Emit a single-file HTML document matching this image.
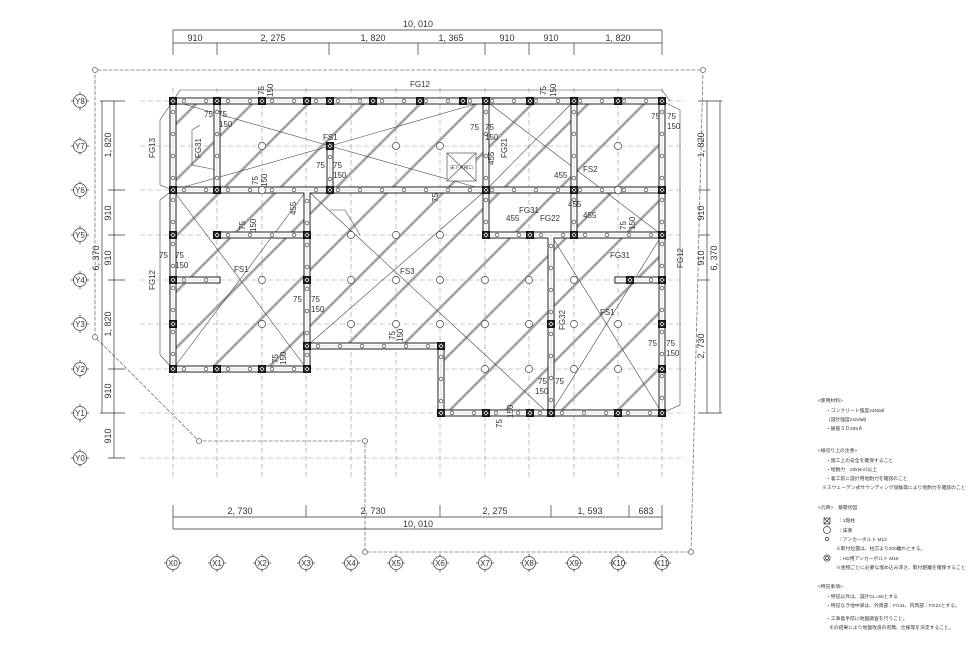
<!DOCTYPE html>
<html><head><meta charset="utf-8">
<style>
html,body{margin:0;padding:0;background:#fff;}
svg{display:block;font-family:"Liberation Sans","Noto Sans CJK JP",sans-serif;}
.t{font-size:9px;fill:#333;}
.s{font-size:8px;fill:#333;}
.n{font-size:4.6px;fill:#444;}
</style></head><body>
<svg id="s" width="980" height="655" viewBox="0 0 980 655" xmlns="http://www.w3.org/2000/svg">
<defs>
<clipPath id="bld"><polygon points="173,101 662,101 662,413 441,413 441,346 307,346 307,369 173,369"/></clipPath>
</defs>
<g id="grid" stroke="#999" stroke-width="0.6" stroke-dasharray="5,3" fill="none"></g>
<g stroke="#777" stroke-width="0.8" fill="none" stroke-dasharray="4,1.5">
<polyline points="95,337 95,70 703,70 691,552 365,552 365,441 199,441 95,337"/>
</g>
<g fill="#fff" stroke="#666" stroke-width="0.8"><circle cx="95" cy="70" r="2.5"/><circle cx="703" cy="70" r="2.5"/><circle cx="95" cy="337" r="2.5"/><circle cx="199" cy="441" r="2.5"/><circle cx="365" cy="441" r="2.5"/><circle cx="365" cy="552" r="2.5"/><circle cx="691" cy="552" r="2.5"/></g>
<g id="hatch" clip-path="url(#bld)" stroke="#a3a3a3" stroke-width="2.6"></g>
<g stroke="#444" stroke-width="0.6" fill="none">
<line x1="173" y1="101" x2="330" y2="146"/><line x1="173" y1="190" x2="330" y2="146"/><line x1="330" y1="146" x2="486" y2="101"/><line x1="330" y1="146" x2="486" y2="190"/>
<line x1="173" y1="190" x2="307" y2="369"/><line x1="307" y1="190" x2="173" y2="369"/>
<line x1="307" y1="190" x2="548" y2="413"/><line x1="307" y1="346" x2="486" y2="190"/>
<line x1="486" y1="101" x2="662" y2="235"/><line x1="574" y1="101" x2="486" y2="190"/>
<line x1="551" y1="235" x2="662" y2="413"/><line x1="551" y1="413" x2="662" y2="235"/>
<polyline points="173,101 160,120 160,185 173,190"/><polyline points="173,190 160,200 160,355 173,369"/>
<polyline points="173,101 180,90 662,90 670,101"/><polyline points="662,101 680,110 680,405 662,413"/>
<polyline points="200,125 192,130 192,165 217,170"/>
<polyline points="330,210 345,210 360,235"/>
</g>
<g id="beams"></g>
<g id="cols"></g>
<g stroke="#555" stroke-width="0.7" fill="#fff"><rect x="447" y="153" width="29" height="28"/><line x1="447" y1="153" x2="476" y2="181"/><line x1="476" y1="153" x2="447" y2="181"/></g>
<text class="n" x="450" y="169">床下点検口</text>
<g stroke="#333" stroke-width="0.7" fill="none">
<line x1="173" y1="30" x2="662" y2="30"/><line x1="173" y1="43" x2="662" y2="43"/>
<line x1="173" y1="30" x2="173" y2="55"/><line x1="662" y1="30" x2="662" y2="55"/>
<line x1="217" y1="43" x2="217" y2="55"/><line x1="329" y1="43" x2="329" y2="55"/><line x1="418" y1="43" x2="418" y2="55"/><line x1="485" y1="43" x2="485" y2="55"/><line x1="529" y1="43" x2="529" y2="55"/><line x1="574" y1="43" x2="574" y2="55"/>
<line x1="173" y1="517" x2="662" y2="517"/><line x1="173" y1="529" x2="662" y2="529"/>
<line x1="173" y1="505" x2="173" y2="529"/><line x1="306" y1="505" x2="306" y2="517"/><line x1="440" y1="505" x2="440" y2="517"/><line x1="551" y1="505" x2="551" y2="517"/><line x1="629" y1="505" x2="629" y2="517"/><line x1="662" y1="505" x2="662" y2="529"/>
<line x1="102" y1="101" x2="102" y2="413"/><line x1="114" y1="101" x2="114" y2="458"/>
<line x1="100" y1="101" x2="125" y2="101"/><line x1="108" y1="190" x2="125" y2="190"/><line x1="108" y1="235" x2="125" y2="235"/><line x1="108" y1="280" x2="125" y2="280"/><line x1="108" y1="369" x2="125" y2="369"/><line x1="100" y1="413" x2="125" y2="413"/><line x1="108" y1="458" x2="125" y2="458"/>
<line x1="707" y1="101" x2="707" y2="413"/><line x1="720" y1="101" x2="720" y2="413"/>
<line x1="698" y1="101" x2="722" y2="101"/><line x1="698" y1="190" x2="710" y2="190"/><line x1="698" y1="235" x2="710" y2="235"/><line x1="698" y1="280" x2="710" y2="280"/><line x1="698" y1="413" x2="722" y2="413"/>
</g>
<g class="t" text-anchor="middle">
<text x="418" y="27">10, 010</text>
<text x="195" y="41">910</text><text x="273" y="41">2, 275</text><text x="373" y="41">1, 820</text><text x="451" y="41">1, 365</text><text x="507" y="41">910</text><text x="551" y="41">910</text><text x="618" y="41">1, 820</text>
<text x="240" y="514">2, 730</text><text x="373" y="514">2, 730</text><text x="495" y="514">2, 275</text><text x="590" y="514">1, 593</text><text x="646" y="514">683</text>
<text x="418" y="527">10, 010</text>
<text transform="translate(111,145) rotate(-90)">1, 820</text><text transform="translate(111,213) rotate(-90)">910</text><text transform="translate(111,258) rotate(-90)">910</text><text transform="translate(111,324) rotate(-90)">1, 820</text><text transform="translate(111,391) rotate(-90)">910</text><text transform="translate(111,436) rotate(-90)">910</text>
<text transform="translate(99,258) rotate(-90)">6, 370</text>
<text transform="translate(704,145) rotate(-90)">1, 820</text><text transform="translate(704,213) rotate(-90)">910</text><text transform="translate(704,258) rotate(-90)">910</text><text transform="translate(704,346) rotate(-90)">2, 730</text>
<text transform="translate(717,258) rotate(-90)">6, 370</text>
</g>
<g class="s">
<text x="410" y="87">FG12</text><text x="323" y="140">FS1</text><text x="234" y="272">FS1</text><text x="400" y="274">FS3</text><text x="600" y="315">FS1</text><text x="583" y="172">FS2</text>
<text x="519" y="213">FG31</text><text x="540" y="221">FG22</text><text x="610" y="258">FG31</text>
<text transform="translate(155,158) rotate(-90)">FG13</text><text transform="translate(155,290) rotate(-90)">FG12</text><text transform="translate(683,268) rotate(-90)">FG12</text><text transform="translate(201,158) rotate(-90)">FG31</text><text transform="translate(507,158) rotate(-90)">FG21</text><text transform="translate(565,330) rotate(-90)">FG32</text>
<text x="204" y="117">75</text><text x="218" y="117">75</text><text x="219" y="127">150</text>
<text x="316" y="168">75</text><text x="333" y="168">75</text><text x="333" y="178">150</text>
<text x="159" y="258">75</text><text x="175" y="258">75</text><text x="175" y="268">150</text>
<text x="293" y="302">75</text><text x="311" y="302">75</text><text x="311" y="312">150</text>
<text x="538" y="384">75</text><text x="555" y="384">75</text><text x="535" y="394">150</text>
<text x="648" y="346">75</text><text x="666" y="346">75</text><text x="666" y="356">150</text>
<text x="651" y="119">75</text><text x="667" y="119">75</text><text x="667" y="129">150</text>
<text x="470" y="130">75</text><text x="485" y="130">75</text><text x="485" y="140">150</text>
<text x="568" y="207">455</text><text x="583" y="218">455</text><text x="506" y="221">455</text><text x="554" y="178">455</text>
</g>
<g class="s">
<text transform="translate(264,95) rotate(-90)">75</text><text transform="translate(273,97) rotate(-90)">150</text>
<text transform="translate(546,95) rotate(-90)">75</text><text transform="translate(556,97) rotate(-90)">150</text>
<text transform="translate(258,185) rotate(-90)">75</text><text transform="translate(267,187) rotate(-90)">150</text>
<text transform="translate(438,202) rotate(-90)">75</text>
<text transform="translate(296,215) rotate(-90)">455</text><text transform="translate(494,165) rotate(-90)">455</text>
<text transform="translate(245,230) rotate(-90)">75</text><text transform="translate(256,232) rotate(-90)">150</text>
<text transform="translate(395,340) rotate(-90)">75</text><text transform="translate(403,342) rotate(-90)">150</text>
<text transform="translate(278,363) rotate(-90)">75</text><text transform="translate(286,365) rotate(-90)">150</text>
<text transform="translate(626,230) rotate(-90)">75</text><text transform="translate(635,230) rotate(-90)">150</text>
<text transform="translate(502,428) rotate(-90)">75</text><text transform="translate(513,418) rotate(-90)">150</text>
</g>
<g id="bub" stroke="#444" stroke-width="0.8" fill="#fff"></g>
<g class="s" text-anchor="middle">
<text x="80" y="104">Y8</text><text x="80" y="149">Y7</text><text x="80" y="193">Y6</text><text x="80" y="238">Y5</text><text x="80" y="283">Y4</text><text x="80" y="327">Y3</text><text x="80" y="372">Y2</text><text x="80" y="416">Y1</text><text x="80" y="461">Y0</text>
<text x="173" y="566">X0</text><text x="217" y="566">X1</text><text x="262" y="566">X2</text><text x="306" y="566">X3</text><text x="351" y="566">X4</text><text x="396" y="566">X5</text><text x="440" y="566">X6</text><text x="485" y="566">X7</text><text x="529" y="566">X8</text><text x="574" y="566">X9</text><text x="618" y="566">X10</text><text x="662" y="566">X11</text>
</g>
<g font-size="4.8" fill="#333">
<text x="818" y="402">&lt;使用材料&gt;</text>
<text x="826" y="412">・コンクリート強度24N/㎟</text>
<text x="829" y="421">(設計強度21N/㎟)</text>
<text x="826" y="430">・鉄筋ＳＤ295Ａ</text>
<text x="818" y="452">&lt;根切り上の注意&gt;</text>
<text x="826" y="462">・施工上の安全を確保すること</text>
<text x="826" y="471">・地耐力　20kN/㎡以上</text>
<text x="826" y="480">・着工前に設計用地耐力を確認のこと</text>
<text x="822" y="489">※スウェーデン式サウンディング試験等により地耐力を確認のこと</text>
<text x="818" y="509">&lt;凡例&gt;　基礎伏図</text>
<text x="838" y="522">：1階柱</text>
<text x="838" y="532">：床束</text>
<text x="838" y="541">：アンカーボルト M12</text>
<text x="836" y="550">※取付位置は、柱芯より200離れとする。</text>
<text x="838" y="560">：HD用アンカーボルト M16</text>
<text x="836" y="569">※金物ごとに必要な埋め込み深さ、取付距離を確保すること</text>
<text x="818" y="588">&lt;特記事項&gt;</text>
<text x="826" y="598">・特記以外は、設計GL=50とする</text>
<text x="826" y="607">・特記なき地中梁は、外周部：FG11、内周部：FG21とする。</text>
<text x="826" y="620">・工事着手前に地盤調査を行うこと。</text>
<text x="829" y="629">その結果により地盤改良の有無、仕様等を決定すること。</text>
</g>
<g stroke="#333" stroke-width="0.7" fill="none">
<rect x="824" y="518" width="6" height="6"/><line x1="824" y1="518" x2="830" y2="524"/><line x1="830" y1="518" x2="824" y2="524"/>
<circle cx="827" cy="530" r="3.5"/><circle cx="827" cy="539" r="1.6"/><circle cx="827" cy="558" r="3.2"/><circle cx="827" cy="558" r="1.6"/>
</g>
</svg>
<script>
var NS="http://www.w3.org/2000/svg";
function el(p,t,a){var e=document.createElementNS(NS,t);for(var k in a)e.setAttribute(k,a[k]);document.getElementById(p).appendChild(e);return e;}
var X=[173,217,262,306,351,396,440,485,529,574,618,662],Y=[101,146,190,235,280,324,369,413,458];
X.forEach(function(x){el("grid","line",{x1:x,y1:88,x2:x,y2:480});});
Y.forEach(function(y){el("grid","line",{x1:140,y1:y,x2:685,y2:y});});
for(var c=-400;c<1200;c+=56){el("hatch","line",{x1:c,y1:420,x2:c+330,y2:90});}
var B=[[173,101,662,101],[173,190,662,190],[173,101,173,369],[662,101,662,413],[173,369,307,369],[307,190,307,369],[307,346,441,346],[441,346,441,413],[441,413,662,413],[217,101,217,190],[330,146,330,190],[486,101,486,235],[574,101,574,235],[217,235,307,235],[486,235,662,235],[551,235,551,413],[173,280,217,280],[618,280,662,280]];
B.forEach(function(b){el("beams","line",{x1:b[0],y1:b[1],x2:b[2],y2:b[3],stroke:"#222","stroke-width":7,"stroke-linecap":"square"});});
B.forEach(function(b){el("beams","line",{x1:b[0],y1:b[1],x2:b[2],y2:b[3],stroke:"#fff","stroke-width":5,"stroke-linecap":"square"});});
B.forEach(function(b){el("beams","line",{x1:b[0],y1:b[1],x2:b[2],y2:b[3],stroke:"#bbb","stroke-width":0.5});});
B.forEach(function(b){var L=Math.hypot(b[2]-b[0],b[3]-b[1]);for(var d=11;d<L-5;d+=22){var t=d/L;el("cols","circle",{cx:b[0]+(b[2]-b[0])*t,cy:b[1]+(b[3]-b[1])*t,r:1.8,fill:"#fff",stroke:"#333","stroke-width":0.6});}});
[[262,146],[396,146],[440,146],[351,235],[396,235],[440,235],[262,280],[351,280],[396,280],[440,280],[485,280],[529,280],[574,280],[262,324],[351,324],[396,324],[440,324],[485,324],[529,324],[574,324],[618,324],[485,369],[529,369],[574,369],[618,369],[618,146],[618,190],[262,190]].forEach(function(p){el("cols","circle",{cx:p[0],cy:p[1],r:3.6,fill:"#fff",stroke:"#444","stroke-width":0.7});});
[[173,101],[217,101],[262,101],[307,101],[330,101],[373,101],[420,101],[463,101],[486,101],[530,101],[574,101],[618,101],[662,101],[330,146],[173,190],[217,190],[330,190],[486,190],[574,190],[662,190],[217,235],[307,235],[486,235],[530,235],[574,235],[662,235],[173,235],[173,280],[307,280],[662,280],[630,280],[173,324],[307,346],[441,346],[173,369],[217,369],[262,369],[307,369],[551,324],[662,324],[662,369],[441,413],[486,413],[530,413],[551,413],[618,413],[662,413]].forEach(function(p){var x=p[0]-4,y=p[1]-4;el("cols","rect",{x:x,y:y,width:8,height:8,fill:"#111"});el("cols","rect",{x:x+1.8,y:y+1.8,width:4.4,height:4.4,fill:"#fff"});el("cols","line",{x1:x+1.8,y1:y+1.8,x2:x+6.2,y2:y+6.2,stroke:"#111","stroke-width":0.9});el("cols","line",{x1:x+6.2,y1:y+1.8,x2:x+1.8,y2:y+6.2,stroke:"#111","stroke-width":0.9});});
function bub(x,y){el("bub","circle",{cx:x,cy:y,r:6.5});el("bub","line",{x1:x-9,y1:y,x2:x-6.5,y2:y});el("bub","line",{x1:x+6.5,y1:y,x2:x+9,y2:y});el("bub","line",{x1:x,y1:y-9,x2:x,y2:y-6.5});el("bub","line",{x1:x,y1:y+6.5,x2:x,y2:y+9});}
Y.forEach(function(y){bub(80,y);});X.forEach(function(x){bub(x,563);});
</script>
</body></html>
